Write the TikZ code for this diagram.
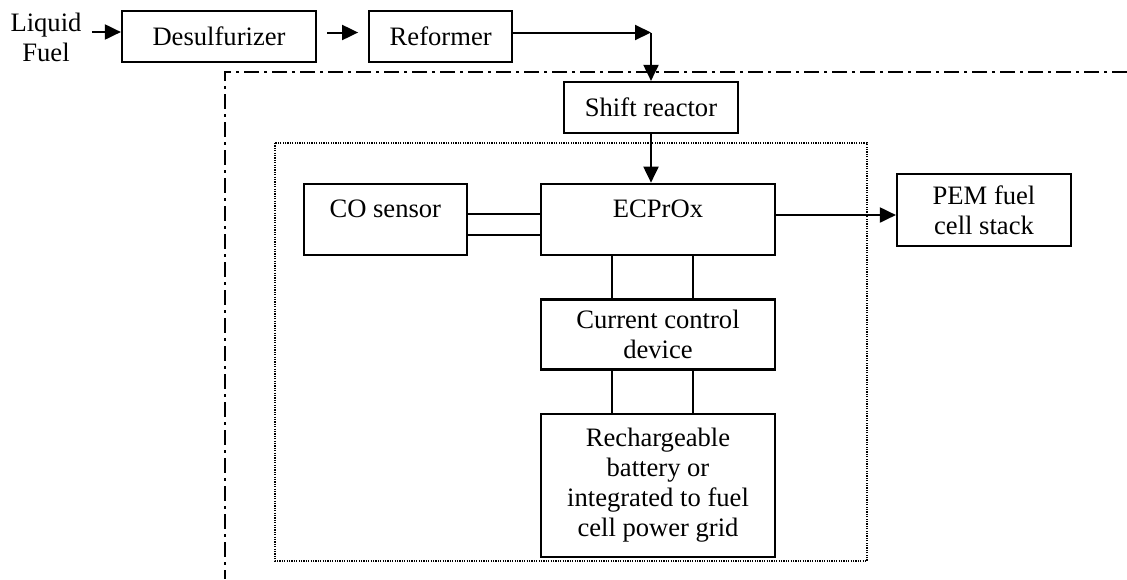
\documentclass[tikz,border=0pt]{standalone}
\usepackage{fontspec}
\setmainfont{Liberation Serif}
\usepackage{tikz}
\usetikzlibrary{arrows.meta,positioning}

\begin{document}
\begin{tikzpicture}[
  x=0.5pt, y=-0.5pt,
  font=\fontsize{13.3}{15.1}\selectfont,
  block/.style={draw, line width=1.1pt, minimum height=25.5pt, align=center,
                inner sep=2pt},
  topblock/.style={block, text height=9pt, text depth=10.75pt, inner ysep=8pt},
  arrow/.style={-{Triangle[length=8pt,width=7.5pt]}, line width=1pt},
  wire/.style={line width=1pt},
  boundary/.style={line width=0.8pt, dash pattern=on 7.5pt off 2.5pt on 1.5pt off 2.5pt},
  module/.style={line width=0.7pt, dash pattern=on 0.6pt off 0.6pt}
]
  \useasboundingbox (0,0) rectangle (1127,579);

  % enclosures
  \draw[boundary] (1127,72) -- (225,72) -- (225,579);
  \draw[module] (275,143) rectangle (867,561);

  % fuel processing train
  \node[align=center, inner sep=3pt] (fuel) at (46,37) {Liquid\\Fuel};
  \node[block, minimum width=97pt] (desulf) at (219,36.5) {Desulfurizer};
  \node[block, minimum width=71.5pt, right=25.5pt of desulf] (reformer) {Reformer};
  \node[block, minimum width=87pt] (shift) at (651,107.5) {Shift reactor};

  % CO clean-up unit
  \node[topblock, minimum width=117pt] (ecprox) at (658,219.5) {ECPrOx};
  \node[topblock, minimum width=81.5pt, left=36pt of ecprox] (co) {CO sensor};
  \node[block, minimum width=117pt, minimum height=35pt, below=21pt of ecprox] (current) {Current control\\device};
  \node[block, minimum width=117pt, minimum height=71.5pt, below=21pt of current] (battery) {Rechargeable\\battery or\\integrated to fuel\\cell power grid};
  \node[block, minimum width=87pt, minimum height=36pt] (pem) at (984,210) {PEM fuel\\cell stack};

  \coordinate (feed) at ([yshift=2.5pt]fuel.east);
  \coordinate (dout) at ([yshift=2pt]desulf.east);
  \coordinate (rout) at ([yshift=2pt]reformer.east);
  \coordinate (bend) at (rout -| shift.north);
  \coordinate (eout) at ([yshift=2.25pt]ecprox.east);

  \draw[arrow, shorten <=2pt] (feed) -- (feed -| desulf.west);
  \draw[arrow, shorten <=5pt, shorten >=5pt] (dout) -- (dout -| reformer.west);
  \draw[arrow] (rout) -- (bend);
  \draw[arrow] (bend) -- (shift);
  \draw[arrow] (shift.south) -- (shift.south |- ecprox.north);
  \draw[arrow] (eout) -- (eout -| pem.west);

  \draw[wire] ([yshift=2.75pt]co.east) -- ([yshift=2.75pt]ecprox.west);
  \draw[wire] ([yshift=-7.75pt]co.east) -- ([yshift=-7.75pt]ecprox.west);
  \draw[wire] ([xshift=-23pt]ecprox.south) -- ([xshift=-23pt]current.north);
  \draw[wire] ([xshift=17.5pt]ecprox.south) -- ([xshift=17.5pt]current.north);
  \draw[wire] ([xshift=-23pt]current.south) -- ([xshift=-23pt]battery.north);
  \draw[wire] ([xshift=17.5pt]current.south) -- ([xshift=17.5pt]battery.north);
\end{tikzpicture}
\end{document}
